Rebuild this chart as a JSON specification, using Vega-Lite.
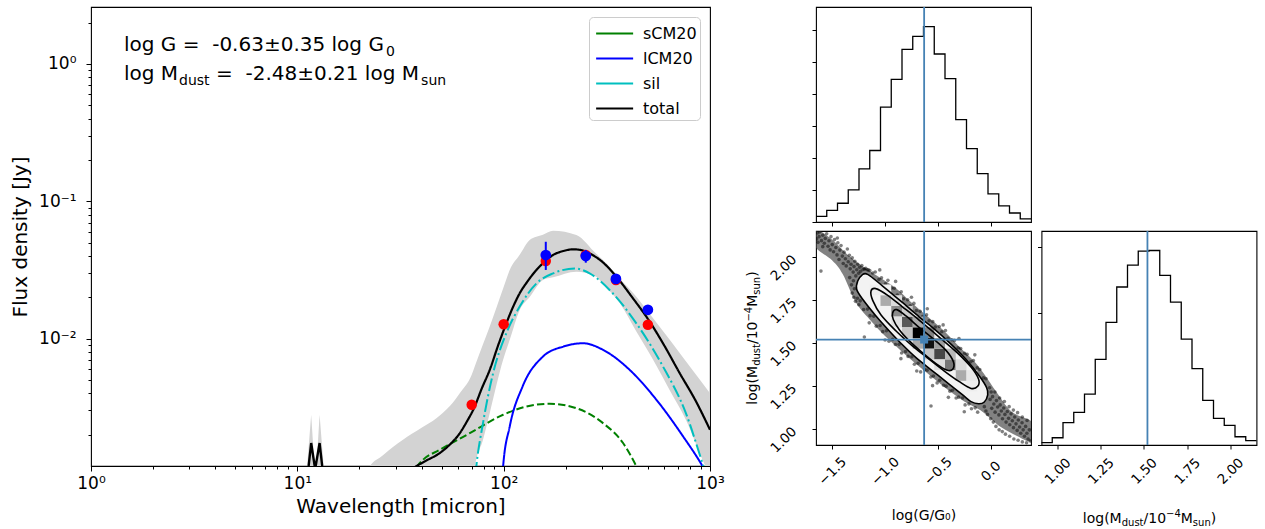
{
"$schema": "https://vega.github.io/schema/vega-lite/v6.json",
"background": "white",
"padding": {"left": 10, "top": 5, "right": 3, "bottom": 0},
"config": {
  "font": "DejaVu Sans",
  "view": {"stroke": "black", "strokeWidth": 1.1},
  "axis": {"grid": false, "domain": false, "tickColor": "black", "tickWidth": 1, "labelColor": "black", "titleColor": "black", "titleFontWeight": "normal", "labelFlush": false, "labelOverlap": false}
},
"datasets": {
  "band": [
    {"lam": 20, "hi": 0.000794, "lo": 0.0001},
    {"lam": 22, "hi": 0.001122, "lo": 0.0001},
    {"lam": 26, "hi": 0.001413, "lo": 0.0001},
    {"lam": 32.5, "hi": 0.001832, "lo": 0.0001},
    {"lam": 40, "hi": 0.002239, "lo": 0.0001},
    {"lam": 47.2, "hi": 0.00263, "lo": 0.0001},
    {"lam": 55, "hi": 0.003236, "lo": 0.0001},
    {"lam": 62, "hi": 0.004102, "lo": 0.0001},
    {"lam": 70, "hi": 0.005458, "lo": 0.000631},
    {"lam": 72.4, "hi": 0.006266, "lo": 0.001122},
    {"lam": 79.4, "hi": 0.009078, "lo": 0.001832},
    {"lam": 85.6, "hi": 0.01222, "lo": 0.002864},
    {"lam": 99.4, "hi": 0.02312, "lo": 0.006998},
    {"lam": 107, "hi": 0.03162, "lo": 0.009795},
    {"lam": 119.6, "hi": 0.04074, "lo": 0.01618},
    {"lam": 133.7, "hi": 0.05224, "lo": 0.02009},
    {"lam": 155, "hi": 0.05702, "lo": 0.02673},
    {"lam": 173.6, "hi": 0.06095, "lo": 0.02793},
    {"lam": 225, "hi": 0.05675, "lo": 0.03069},
    {"lam": 281, "hi": 0.0414, "lo": 0.02825},
    {"lam": 303, "hi": 0.03733, "lo": 0.02495},
    {"lam": 366, "hi": 0.02729, "lo": 0.01807},
    {"lam": 439.6, "hi": 0.02018, "lo": 0.01125},
    {"lam": 530, "hi": 0.01406, "lo": 0.006998},
    {"lam": 638, "hi": 0.009795, "lo": 0.004198},
    {"lam": 764, "hi": 0.006839, "lo": 0.002564},
    {"lam": 920, "hi": 0.004721, "lo": 0.001312},
    {"lam": 1000, "hi": 0.003999, "lo": 0.001}
  ],
  "gspk": [
    {"lam": 11.0, "hi": 0.0009, "lo": 0.0005},
    {"lam": 11.67, "hi": 0.002786, "lo": 0.0005},
    {"lam": 12.25, "hi": 0.0009, "lo": 0.0005},
    {"lam": 12.82, "hi": 0.002786, "lo": 0.0005},
    {"lam": 13.6, "hi": 0.0009, "lo": 0.0005}
  ],
  "spk": [
    {"lam": 11.3, "f": 0.00112},
    {"lam": 11.67, "f": 0.001734},
    {"lam": 12.2, "f": 0.00112},
    {"lam": 12.82, "f": 0.001734},
    {"lam": 13.25, "f": 0.00112}
  ],
  "curves": [
    {"c": "sCM20", "lam": 35, "f": 0.001},
    {"c": "sCM20", "lam": 40.7, "f": 0.001312},
    {"c": "sCM20", "lam": 49, "f": 0.001549},
    {"c": "sCM20", "lam": 68.5, "f": 0.002046},
    {"c": "sCM20", "lam": 99.4, "f": 0.002786},
    {"c": "sCM20", "lam": 128.8, "f": 0.003199},
    {"c": "sCM20", "lam": 167, "f": 0.00335},
    {"c": "sCM20", "lam": 225, "f": 0.003112},
    {"c": "sCM20", "lam": 303, "f": 0.002421},
    {"c": "sCM20", "lam": 379, "f": 0.001734},
    {"c": "sCM20", "lam": 439.6, "f": 0.001175},
    {"c": "sCM20", "lam": 470, "f": 0.000955},
    {"c": "lCM20", "lam": 97, "f": 0.000631},
    {"c": "lCM20", "lam": 99.4, "f": 0.001175},
    {"c": "lCM20", "lam": 107, "f": 0.002291},
    {"c": "lCM20", "lam": 123.5, "f": 0.004477},
    {"c": "lCM20", "lam": 155, "f": 0.007396},
    {"c": "lCM20", "lam": 195, "f": 0.00875},
    {"c": "lCM20", "lam": 242.6, "f": 0.009247},
    {"c": "lCM20", "lam": 303, "f": 0.008279},
    {"c": "lCM20", "lam": 408, "f": 0.005916},
    {"c": "lCM20", "lam": 550, "f": 0.003581},
    {"c": "lCM20", "lam": 741, "f": 0.001936},
    {"c": "lCM20", "lam": 920, "f": 0.001175},
    {"c": "lCM20", "lam": 1000, "f": 0.000933},
    {"c": "sil", "lam": 70, "f": 0.000501},
    {"c": "sil", "lam": 73.7, "f": 0.001175},
    {"c": "sil", "lam": 79.4, "f": 0.002421},
    {"c": "sil", "lam": 88.9, "f": 0.005598},
    {"c": "sil", "lam": 103, "f": 0.01094},
    {"c": "sil", "lam": 119.6, "f": 0.0171},
    {"c": "sil", "lam": 144.2, "f": 0.02523},
    {"c": "sil", "lam": 173.6, "f": 0.02985},
    {"c": "sil", "lam": 221, "f": 0.03243},
    {"c": "sil", "lam": 261, "f": 0.02985},
    {"c": "sil", "lam": 326, "f": 0.0226},
    {"c": "sil", "lam": 439.6, "f": 0.01291},
    {"c": "sil", "lam": 592, "f": 0.006252},
    {"c": "sil", "lam": 764, "f": 0.002864},
    {"c": "sil", "lam": 908, "f": 0.001312},
    {"c": "sil", "lam": 1000, "f": 0.000832},
    {"c": "total", "lam": 30, "f": 0.0009},
    {"c": "total", "lam": 37.7, "f": 0.001175},
    {"c": "total", "lam": 42, "f": 0.001288},
    {"c": "total", "lam": 49, "f": 0.001466},
    {"c": "total", "lam": 55, "f": 0.001698},
    {"c": "total", "lam": 61.3, "f": 0.002046},
    {"c": "total", "lam": 66, "f": 0.002455},
    {"c": "total", "lam": 72.4, "f": 0.003199},
    {"c": "total", "lam": 78, "f": 0.004266},
    {"c": "total", "lam": 85.6, "f": 0.005916},
    {"c": "total", "lam": 94, "f": 0.008913},
    {"c": "total", "lam": 103, "f": 0.01291},
    {"c": "total", "lam": 111, "f": 0.01698},
    {"c": "total", "lam": 119.6, "f": 0.02138},
    {"c": "total", "lam": 131, "f": 0.0263},
    {"c": "total", "lam": 144.2, "f": 0.03162},
    {"c": "total", "lam": 158, "f": 0.03631},
    {"c": "total", "lam": 173.6, "f": 0.04064},
    {"c": "total", "lam": 195, "f": 0.04345},
    {"c": "total", "lam": 217, "f": 0.04467},
    {"c": "total", "lam": 240, "f": 0.04395},
    {"c": "total", "lam": 261, "f": 0.04169},
    {"c": "total", "lam": 300, "f": 0.03631},
    {"c": "total", "lam": 351.7, "f": 0.02825},
    {"c": "total", "lam": 420, "f": 0.01995},
    {"c": "total", "lam": 510, "f": 0.0133},
    {"c": "total", "lam": 600, "f": 0.008913},
    {"c": "total", "lam": 713, "f": 0.005598},
    {"c": "total", "lam": 850, "f": 0.003548},
    {"c": "total", "lam": 1000, "f": 0.002168}
  ],
  "obs": [
    {"k": "model", "lam": 70, "f": 0.0033},
    {"k": "model", "lam": 100, "f": 0.0127},
    {"k": "model", "lam": 160, "f": 0.0367},
    {"k": "model", "lam": 250, "f": 0.0406},
    {"k": "model", "lam": 350, "f": 0.0267},
    {"k": "model", "lam": 500, "f": 0.0126},
    {"k": "obs", "lam": 160, "f": 0.0406, "lo": 0.0316, "hi": 0.0507},
    {"k": "obs", "lam": 250, "f": 0.0399, "lo": 0.0357, "hi": 0.0442},
    {"k": "obs", "lam": 350, "f": 0.0272, "lo": 0.0262, "hi": 0.0282},
    {"k": "obs", "lam": 500, "f": 0.0162, "lo": 0.0155, "hi": 0.0169}
  ],
  "ann": [
    {"k": "main", "t": "log G = \u00a0-0.63±0.35 log G", "lam": 1.445, "f": 1.243},
    {"k": "sub", "t": "0", "lam": 26.9, "f": 1.143},
    {"k": "main", "t": "log M", "lam": 1.445, "f": 0.765},
    {"k": "sub", "t": "dust", "lam": 2.67, "f": 0.7036},
    {"k": "main", "t": "= \u00a0-2.48±0.21 log M", "lam": 4.035, "f": 0.765},
    {"k": "sub", "t": "sun", "lam": 39.8, "f": 0.7036}
  ],
  "ttlx": [
    {"k": "main", "t": "log(M", "x": 1.146, "y": -472},
    {"k": "small", "t": "dust", "x": 1.3711, "y": -493},
    {"k": "main", "t": "/10", "x": 1.4973, "y": -472},
    {"k": "small", "t": "−4", "x": 1.6275, "y": -437},
    {"k": "main", "t": "M", "x": 1.7126, "y": -472},
    {"k": "small", "t": "sun", "x": 1.7826, "y": -493},
    {"k": "main", "t": ")", "x": 1.8862, "y": -472}
  ],
  "ttly": [
    {"k": "main", "t": "log(M", "g": -2.213, "m": 1.1411},
    {"k": "small", "t": "dust", "g": -2.18, "m": 1.3673},
    {"k": "main", "t": "/10", "g": -2.213, "m": 1.494},
    {"k": "small", "t": "−4", "g": -2.26, "m": 1.6248},
    {"k": "main", "t": "M", "g": -2.213, "m": 1.7103},
    {"k": "small", "t": "sun", "g": -2.18, "m": 1.7807},
    {"k": "main", "t": ")", "g": -2.213, "m": 1.8847}
  ],
  "hg": [
    {"e": -1.654, "n": 35}, {"e": -1.5522, "n": 73}, {"e": -1.4504, "n": 117}, {"e": -1.3486, "n": 200},
    {"e": -1.2468, "n": 331}, {"e": -1.145, "n": 446}, {"e": -1.0432, "n": 717}, {"e": -0.9414, "n": 890},
    {"e": -0.8396, "n": 1077}, {"e": -0.7378, "n": 1158}, {"e": -0.636, "n": 1219}, {"e": -0.5342, "n": 1048},
    {"e": -0.4324, "n": 894}, {"e": -0.3306, "n": 638}, {"e": -0.2288, "n": 458}, {"e": -0.127, "n": 302},
    {"e": -0.0252, "n": 175}, {"e": 0.0766, "n": 100}, {"e": 0.1784, "n": 56}, {"e": 0.2802, "n": 19},
    {"e": 0.382, "n": 19}
  ],
  "hm": [
    {"e": 0.907, "n": 14}, {"e": 0.9692, "n": 44}, {"e": 1.0314, "n": 135}, {"e": 1.0936, "n": 198},
    {"e": 1.1558, "n": 308}, {"e": 1.218, "n": 518}, {"e": 1.2802, "n": 742}, {"e": 1.3424, "n": 956},
    {"e": 1.4046, "n": 1089}, {"e": 1.4668, "n": 1173}, {"e": 1.529, "n": 1177}, {"e": 1.5912, "n": 1026},
    {"e": 1.6534, "n": 865}, {"e": 1.7156, "n": 641}, {"e": 1.7778, "n": 462}, {"e": 1.84, "n": 270},
    {"e": 1.9022, "n": 161}, {"e": 1.9644, "n": 119}, {"e": 2.0266, "n": 50}, {"e": 2.0888, "n": 26},
    {"e": 2.151, "n": 26}
  ],
  "halo": [
    {"i": 1, "g": -1.66, "m": 2.16}, {"i": 2, "g": -1.5, "m": 2.1}, {"i": 3, "g": -1.35, "m": 2.01}, {"i": 4, "g": -1.2, "m": 1.94},
    {"i": 5, "g": -1.05, "m": 1.88}, {"i": 6, "g": -0.9, "m": 1.82}, {"i": 7, "g": -0.75, "m": 1.735}, {"i": 8, "g": -0.6, "m": 1.655},
    {"i": 9, "g": -0.45, "m": 1.575}, {"i": 10, "g": -0.3, "m": 1.48}, {"i": 11, "g": -0.15, "m": 1.39}, {"i": 12, "g": -0.05, "m": 1.31},
    {"i": 13, "g": 0.05, "m": 1.22}, {"i": 14, "g": 0.2, "m": 1.1}, {"i": 15, "g": 0.39, "m": 1.04},
    {"i": 16, "g": 0.39, "m": 0.93}, {"i": 17, "g": 0.25, "m": 0.96}, {"i": 18, "g": 0.1, "m": 1.01}, {"i": 19, "g": 0.0, "m": 1.06},
    {"i": 20, "g": -0.1, "m": 1.11}, {"i": 21, "g": -0.25, "m": 1.16}, {"i": 22, "g": -0.4, "m": 1.225}, {"i": 23, "g": -0.55, "m": 1.3},
    {"i": 24, "g": -0.7, "m": 1.375}, {"i": 25, "g": -0.85, "m": 1.455}, {"i": 26, "g": -1.0, "m": 1.54}, {"i": 27, "g": -1.15, "m": 1.64},
    {"i": 28, "g": -1.28, "m": 1.74}, {"i": 29, "g": -1.4, "m": 1.9}, {"i": 30, "g": -1.5, "m": 1.98}, {"i": 31, "g": -1.66, "m": 2.06}
  ],
  "cells": [
    {"g0": -1.145, "g1": -1.0432, "m0": 1.7778, "m1": 1.84, "d": 0.06},
    {"g0": -1.0432, "g1": -0.9414, "m0": 1.7156, "m1": 1.7778, "d": 0.3},
    {"g0": -1.0432, "g1": -0.9414, "m0": 1.7778, "m1": 1.84, "d": 0.05},
    {"g0": -0.9414, "g1": -0.8396, "m0": 1.6534, "m1": 1.7156, "d": 0.42},
    {"g0": -0.9414, "g1": -0.8396, "m0": 1.7156, "m1": 1.7778, "d": 0.12},
    {"g0": -0.9414, "g1": -0.8396, "m0": 1.5912, "m1": 1.6534, "d": 0.1},
    {"g0": -0.8396, "g1": -0.7378, "m0": 1.5912, "m1": 1.6534, "d": 0.62},
    {"g0": -0.8396, "g1": -0.7378, "m0": 1.6534, "m1": 1.7156, "d": 0.18},
    {"g0": -0.8396, "g1": -0.7378, "m0": 1.529, "m1": 1.5912, "d": 0.2},
    {"g0": -0.7378, "g1": -0.636, "m0": 1.529, "m1": 1.5912, "d": 1.0},
    {"g0": -0.7378, "g1": -0.636, "m0": 1.5912, "m1": 1.6534, "d": 0.3},
    {"g0": -0.7378, "g1": -0.636, "m0": 1.4668, "m1": 1.529, "d": 0.3},
    {"g0": -0.636, "g1": -0.5342, "m0": 1.4668, "m1": 1.529, "d": 0.95},
    {"g0": -0.636, "g1": -0.5342, "m0": 1.529, "m1": 1.5912, "d": 0.45},
    {"g0": -0.636, "g1": -0.5342, "m0": 1.4046, "m1": 1.4668, "d": 0.2},
    {"g0": -0.5342, "g1": -0.4324, "m0": 1.4046, "m1": 1.4668, "d": 0.7},
    {"g0": -0.5342, "g1": -0.4324, "m0": 1.4668, "m1": 1.529, "d": 0.35},
    {"g0": -0.5342, "g1": -0.4324, "m0": 1.3424, "m1": 1.4046, "d": 0.12},
    {"g0": -0.4324, "g1": -0.3306, "m0": 1.3424, "m1": 1.4046, "d": 0.5},
    {"g0": -0.4324, "g1": -0.3306, "m0": 1.4046, "m1": 1.4668, "d": 0.25},
    {"g0": -0.3306, "g1": -0.2288, "m0": 1.2802, "m1": 1.3424, "d": 0.3},
    {"g0": -0.3306, "g1": -0.2288, "m0": 1.3424, "m1": 1.4046, "d": 0.12},
    {"g0": -0.2288, "g1": -0.127, "m0": 1.218, "m1": 1.2802, "d": 0.06},
    {"g0": -0.2288, "g1": -0.127, "m0": 1.2802, "m1": 1.3424, "d": 0.08}
  ],
  "cont": [
    {"lv": 1, "i": 1, "g": -1.259, "m": 1.86}, {"lv": 1, "i": 2, "g": -1.218, "m": 1.895}, {"lv": 1, "i": 3, "g": -1.165, "m": 1.899},
    {"lv": 1, "i": 4, "g": -1.023, "m": 1.831}, {"lv": 1, "i": 5, "g": -0.833, "m": 1.734}, {"lv": 1, "i": 6, "g": -0.675, "m": 1.651},
    {"lv": 1, "i": 7, "g": -0.549, "m": 1.589}, {"lv": 1, "i": 8, "g": -0.391, "m": 1.502}, {"lv": 1, "i": 9, "g": -0.234, "m": 1.405},
    {"lv": 1, "i": 10, "g": -0.107, "m": 1.308}, {"lv": 1, "i": 11, "g": -0.038, "m": 1.24}, {"lv": 1, "i": 12, "g": -0.028, "m": 1.198},
    {"lv": 1, "i": 13, "g": -0.06, "m": 1.157}, {"lv": 1, "i": 14, "g": -0.114, "m": 1.147}, {"lv": 1, "i": 15, "g": -0.186, "m": 1.159},
    {"lv": 1, "i": 16, "g": -0.265, "m": 1.198}, {"lv": 1, "i": 17, "g": -0.391, "m": 1.26}, {"lv": 1, "i": 18, "g": -0.549, "m": 1.337},
    {"lv": 1, "i": 19, "g": -0.707, "m": 1.415}, {"lv": 1, "i": 20, "g": -0.833, "m": 1.488}, {"lv": 1, "i": 21, "g": -0.96, "m": 1.57},
    {"lv": 1, "i": 22, "g": -1.086, "m": 1.657}, {"lv": 1, "i": 23, "g": -1.212, "m": 1.754}, {"lv": 1, "i": 24, "g": -1.269, "m": 1.812},
    {"lv": 2, "i": 1, "g": -1.133, "m": 1.802}, {"lv": 2, "i": 2, "g": -1.086, "m": 1.816}, {"lv": 2, "i": 3, "g": -0.975, "m": 1.777},
    {"lv": 2, "i": 4, "g": -0.833, "m": 1.709}, {"lv": 2, "i": 5, "g": -0.675, "m": 1.632}, {"lv": 2, "i": 6, "g": -0.518, "m": 1.55},
    {"lv": 2, "i": 7, "g": -0.328, "m": 1.45}, {"lv": 2, "i": 8, "g": -0.186, "m": 1.36}, {"lv": 2, "i": 9, "g": -0.114, "m": 1.289},
    {"lv": 2, "i": 10, "g": -0.123, "m": 1.248}, {"lv": 2, "i": 11, "g": -0.186, "m": 1.236}, {"lv": 2, "i": 12, "g": -0.297, "m": 1.275},
    {"lv": 2, "i": 13, "g": -0.439, "m": 1.337}, {"lv": 2, "i": 14, "g": -0.581, "m": 1.405}, {"lv": 2, "i": 15, "g": -0.739, "m": 1.482},
    {"lv": 2, "i": 16, "g": -0.896, "m": 1.57}, {"lv": 2, "i": 17, "g": -1.038, "m": 1.663}, {"lv": 2, "i": 18, "g": -1.117, "m": 1.748},
    {"lv": 3, "i": 1, "g": -0.928, "m": 1.676}, {"lv": 3, "i": 2, "g": -0.89, "m": 1.694}, {"lv": 3, "i": 3, "g": -0.802, "m": 1.657},
    {"lv": 3, "i": 4, "g": -0.675, "m": 1.589}, {"lv": 3, "i": 5, "g": -0.549, "m": 1.527}, {"lv": 3, "i": 6, "g": -0.423, "m": 1.457},
    {"lv": 3, "i": 7, "g": -0.353, "m": 1.391}, {"lv": 3, "i": 8, "g": -0.36, "m": 1.347}, {"lv": 3, "i": 9, "g": -0.417, "m": 1.343},
    {"lv": 3, "i": 10, "g": -0.518, "m": 1.38}, {"lv": 3, "i": 11, "g": -0.644, "m": 1.442}, {"lv": 3, "i": 12, "g": -0.77, "m": 1.512},
    {"lv": 3, "i": 13, "g": -0.865, "m": 1.577}, {"lv": 3, "i": 14, "g": -0.922, "m": 1.637}
  ],
  "pts": [
    {"g": -1.648, "m": 2.105}, {"g": -1.64, "m": 2.14}, {"g": -1.635, "m": 2.085}, {"g": -1.625, "m": 2.118}, {"g": -1.618, "m": 2.146},
    {"g": -1.602, "m": 2.095}, {"g": -1.59, "m": 2.126}, {"g": -1.59, "m": 2.06}, {"g": -1.575, "m": 2.08}, {"g": -1.566, "m": 2.108},
    {"g": -1.553, "m": 2.135}, {"g": -1.54, "m": 2.062}, {"g": -1.531, "m": 2.094}, {"g": -1.52, "m": 2.041}, {"g": -1.512, "m": 2.118},
    {"g": -1.5, "m": 2.072}, {"g": -1.488, "m": 2.03}, {"g": -1.479, "m": 2.101}, {"g": -1.466, "m": 2.055}, {"g": -1.455, "m": 2.012},
    {"g": -1.452, "m": 2.11}, {"g": -1.447, "m": 2.083}, {"g": -1.436, "m": 1.985}, {"g": -1.428, "m": 2.04}, {"g": -1.417, "m": 2.066},
    {"g": -1.405, "m": 2.005}, {"g": -1.396, "m": 1.962}, {"g": -1.388, "m": 2.028}, {"g": -1.376, "m": 1.99}, {"g": -1.368, "m": 1.948},
    {"g": -1.357, "m": 2.046}, {"g": -1.349, "m": 1.972}, {"g": -1.338, "m": 2.01}, {"g": -1.335, "m": 1.88}, {"g": -1.33, "m": 1.931},
    {"g": -1.322, "m": 1.958}, {"g": -1.318, "m": 1.838}, {"g": -1.312, "m": 1.79}, {"g": -1.311, "m": 1.995}, {"g": -1.302, "m": 1.912},
    {"g": -1.3, "m": 1.862}, {"g": -1.296, "m": 1.766}, {"g": -1.294, "m": 1.944}, {"g": -1.29, "m": 1.815}, {"g": -1.286, "m": 1.975},
    {"g": -1.28, "m": 1.742}, {"g": -1.277, "m": 1.89}, {"g": -1.268, "m": 1.926}, {"g": -1.262, "m": 1.76}, {"g": -1.259, "m": 1.958},
    {"g": -1.25, "m": 1.905}, {"g": -1.248, "m": 1.722}, {"g": -1.241, "m": 1.94}, {"g": -1.235, "m": 1.745}, {"g": -1.232, "m": 1.917},
    {"g": -1.22, "m": 1.95}, {"g": -1.208, "m": 1.928}, {"g": -1.195, "m": 1.93}, {"g": -1.183, "m": 1.934}, {"g": -1.17, "m": 1.926},
    {"g": -1.158, "m": 1.925}, {"g": -1.145, "m": 1.921},
    {"g": -1.117, "m": 1.907}, {"g": -1.093, "m": 1.913}, {"g": -1.058, "m": 1.869}, {"g": -1.034, "m": 1.879}, {"g": -0.996, "m": 1.844},
    {"g": -0.973, "m": 1.864}, {"g": -0.938, "m": 1.819}, {"g": -0.912, "m": 1.818}, {"g": -0.884, "m": 1.778}, {"g": -0.847, "m": 1.798},
    {"g": -0.823, "m": 1.757}, {"g": -0.786, "m": 1.751}, {"g": -0.762, "m": 1.716}, {"g": -0.727, "m": 1.73}, {"g": -0.703, "m": 1.689},
    {"g": -0.668, "m": 1.684}, {"g": -0.644, "m": 1.654}, {"g": -0.607, "m": 1.664}, {"g": -0.583, "m": 1.629}, {"g": -0.548, "m": 1.624},
    {"g": -0.524, "m": 1.593}, {"g": -0.487, "m": 1.596}, {"g": -0.463, "m": 1.565}, {"g": -0.428, "m": 1.573}, {"g": -0.404, "m": 1.527},
    {"g": -0.367, "m": 1.519}, {"g": -0.343, "m": 1.515}, {"g": -0.308, "m": 1.472}, {"g": -0.284, "m": 1.468}, {"g": -0.247, "m": 1.44},
    {"g": -0.223, "m": 1.434}, {"g": -0.188, "m": 1.391}, {"g": -0.164, "m": 1.398}, {"g": -0.127, "m": 1.356}, {"g": -0.103, "m": 1.346},
    {"g": -0.068, "m": 1.297}, {"g": -0.044, "m": 1.292},
    {"g": -1.05, "m": 1.925}, {"g": -0.9, "m": 1.858}, {"g": -0.75, "m": 1.766}, {"g": -0.6, "m": 1.699}, {"g": -0.45, "m": 1.605},
    {"g": -0.3, "m": 1.526}, {"g": -0.15, "m": 1.431},
    {"g": -1.203, "m": 1.695}, {"g": -1.166, "m": 1.697}, {"g": -1.142, "m": 1.659}, {"g": -1.107, "m": 1.656}, {"g": -1.083, "m": 1.598},
    {"g": -1.047, "m": 1.602}, {"g": -1.022, "m": 1.566}, {"g": -0.987, "m": 1.571}, {"g": -0.963, "m": 1.51}, {"g": -0.928, "m": 1.521},
    {"g": -0.902, "m": 1.491}, {"g": -0.867, "m": 1.492}, {"g": -0.843, "m": 1.442}, {"g": -0.806, "m": 1.45}, {"g": -0.782, "m": 1.422},
    {"g": -0.746, "m": 1.42}, {"g": -0.722, "m": 1.376}, {"g": -0.687, "m": 1.382}, {"g": -0.663, "m": 1.332}, {"g": -0.626, "m": 1.346},
    {"g": -0.602, "m": 1.342}, {"g": -0.566, "m": 1.302}, {"g": -0.542, "m": 1.308}, {"g": -0.507, "m": 1.268}, {"g": -0.483, "m": 1.283},
    {"g": -0.446, "m": 1.254}, {"g": -0.422, "m": 1.249}, {"g": -0.386, "m": 1.22}, {"g": -0.362, "m": 1.225}, {"g": -0.327, "m": 1.18},
    {"g": -0.303, "m": 1.185}, {"g": -0.266, "m": 1.18}, {"g": -0.242, "m": 1.14}, {"g": -0.206, "m": 1.146}, {"g": -0.182, "m": 1.118},
    {"g": -0.147, "m": 1.123}, {"g": -0.123, "m": 1.098},
    {"g": -1.15, "m": 1.617}, {"g": -1.0, "m": 1.517}, {"g": -0.85, "m": 1.409}, {"g": -0.7, "m": 1.337}, {"g": -0.55, "m": 1.252},
    {"g": -0.4, "m": 1.184}, {"g": -0.25, "m": 1.1}, {"g": -1.196, "m": 1.535}, {"g": -0.565, "m": 1.134}, {"g": -1.607, "m": 1.918},
    {"g": 0.005, "m": 1.215}, {"g": -0.005, "m": 1.172}, {"g": 0.01, "m": 1.12}, {"g": 0.018, "m": 1.188}, {"g": 0.03, "m": 1.145},
    {"g": 0.042, "m": 1.098}, {"g": 0.055, "m": 1.165}, {"g": 0.066, "m": 1.128}, {"g": 0.078, "m": 1.082}, {"g": 0.09, "m": 1.14},
    {"g": 0.101, "m": 1.105}, {"g": 0.112, "m": 1.06}, {"g": 0.124, "m": 1.122}, {"g": 0.135, "m": 1.085}, {"g": 0.146, "m": 1.04},
    {"g": 0.158, "m": 1.102}, {"g": 0.17, "m": 1.062}, {"g": 0.181, "m": 1.025}, {"g": 0.193, "m": 1.088}, {"g": 0.205, "m": 1.048},
    {"g": 0.216, "m": 1.008}, {"g": 0.228, "m": 1.07}, {"g": 0.24, "m": 1.03}, {"g": 0.251, "m": 0.992}, {"g": 0.262, "m": 1.052},
    {"g": 0.274, "m": 1.012}, {"g": 0.285, "m": 0.975}, {"g": 0.297, "m": 1.036}, {"g": 0.308, "m": 0.995}, {"g": 0.32, "m": 0.958},
    {"g": 0.331, "m": 1.015}, {"g": 0.343, "m": 0.975}, {"g": 0.354, "m": 0.942}, {"g": 0.366, "m": 0.995}, {"g": 0.375, "m": 0.93},
    {"g": -0.06, "m": 1.13}, {"g": -0.045, "m": 1.105}, {"g": -0.03, "m": 1.085}, {"g": 0.0, "m": 1.06}, {"g": 0.025, "m": 1.04},
    {"g": 0.05, "m": 1.015}, {"g": 0.08, "m": 0.995}, {"g": 0.11, "m": 0.985}, {"g": 0.14, "m": 0.97}, {"g": 0.18, "m": 0.958},
    {"g": 0.22, "m": 0.942}, {"g": 0.26, "m": 0.935}, {"g": 0.3, "m": 0.925}, {"g": 0.34, "m": 0.92}, {"g": -0.01, "m": 1.24},
    {"g": 0.04, "m": 1.215}, {"g": 0.085, "m": 1.18}, {"g": 0.13, "m": 1.16}, {"g": 0.175, "m": 1.13}, {"g": 0.215, "m": 1.11},
    {"g": 0.255, "m": 1.095}, {"g": 0.3, "m": 1.07}, {"g": 0.345, "m": 1.05}
  ]
},
"spacing": 18,
"hconcat": [
  {
    "width": 619, "height": 459,
    "layer": [
      {"data": {"name": "band"}, "mark": {"type": "area", "interpolate": "monotone", "color": "#d3d3d3", "clip": true},
       "encoding": {
         "x": {"field": "lam", "type": "quantitative", "scale": {"type": "log", "domain": [1, 1000], "nice": false},
               "axis": {"title": "Wavelength [micron]",
                        "values": [1,2,3,4,5,6,7,8,9,10,20,30,40,50,60,70,80,90,100,200,300,400,500,600,700,800,900,1000],
                        "labelExpr": "datum.value==1?'10⁰':datum.value==10?'10¹':datum.value==100?'10²':datum.value==1000?'10³':''",
                        "tickSize": {"condition": {"test": "datum.value==1||datum.value==10||datum.value==100||datum.value==1000", "value": 5}, "value": 3},
                        "labelFontSize": 17, "labelPadding": 4, "titleFontSize": 20, "titlePadding": 5}},
         "y": {"field": "hi", "type": "quantitative", "scale": {"type": "log", "domain": [0.00118, 2.6], "nice": false},
               "axis": {"title": "Flux density [Jy]",
                        "values": [0.002,0.003,0.004,0.005,0.006,0.007,0.008,0.009,0.01,0.02,0.03,0.04,0.05,0.06,0.07,0.08,0.09,0.1,0.2,0.3,0.4,0.5,0.6,0.7,0.8,0.9,1,2],
                        "labelExpr": "datum.value==0.01?'10⁻²':datum.value==0.1?'10⁻¹':datum.value==1?'10⁰':''",
                        "tickSize": {"condition": {"test": "datum.value==0.01||datum.value==0.1||datum.value==1", "value": 5}, "value": 3},
                        "labelFontSize": 17, "labelPadding": 10, "titleFontSize": 20, "titlePadding": 8}},
         "y2": {"field": "lo"}}},
      {"data": {"name": "gspk"}, "mark": {"type": "area", "color": "#d3d3d3", "clip": true},
       "encoding": {"x": {"field": "lam", "type": "quantitative"}, "y": {"field": "hi", "type": "quantitative"}, "y2": {"field": "lo"}}},
      {"data": {"name": "curves"}, "transform": [{"filter": "datum.c=='sCM20'"}],
       "mark": {"type": "line", "strokeWidth": 2, "clip": true, "interpolate": "monotone"},
       "encoding": {"x": {"field": "lam", "type": "quantitative"}, "y": {"field": "f", "type": "quantitative"},
         "color": {"field": "c", "type": "nominal", "scale": {"domain": ["sCM20", "lCM20", "sil", "total"], "range": ["#008000", "#0000ff", "#00bfbf", "#000000"]},
                   "legend": {"title": null, "orient": "top-right", "offset": 10, "padding": 3, "strokeColor": "#cccccc", "fillColor": "white", "cornerRadius": 4, "labelFontSize": 16, "symbolType": "M-0.75,0H2.21", "symbolSize": 625, "symbolStrokeWidth": 2, "rowPadding": 3, "labelOffset": 24}},
         "strokeDash": {"field": "c", "type": "nominal", "scale": {"domain": ["sCM20", "lCM20", "sil", "total"], "range": [[7.4, 3.2], [1, 0], [12.8, 3.2, 2, 3.2], [1, 0]]}, "legend": null}}},
      {"data": {"name": "curves"}, "transform": [{"filter": "datum.c=='lCM20'"}],
       "mark": {"type": "line", "strokeWidth": 2, "clip": true, "interpolate": "monotone"},
       "encoding": {"x": {"field": "lam", "type": "quantitative"}, "y": {"field": "f", "type": "quantitative"},
         "color": {"field": "c", "type": "nominal", "scale": {"domain": ["sCM20", "lCM20", "sil", "total"], "range": ["#008000", "#0000ff", "#00bfbf", "#000000"]}},
         "strokeDash": {"field": "c", "type": "nominal", "scale": {"domain": ["sCM20", "lCM20", "sil", "total"], "range": [[7.4, 3.2], [1, 0], [12.8, 3.2, 2, 3.2], [1, 0]]}, "legend": null}}},
      {"data": {"name": "curves"}, "transform": [{"filter": "datum.c=='sil'"}],
       "mark": {"type": "line", "strokeWidth": 2, "clip": true, "interpolate": "monotone"},
       "encoding": {"x": {"field": "lam", "type": "quantitative"}, "y": {"field": "f", "type": "quantitative"},
         "color": {"field": "c", "type": "nominal", "scale": {"domain": ["sCM20", "lCM20", "sil", "total"], "range": ["#008000", "#0000ff", "#00bfbf", "#000000"]}},
         "strokeDash": {"field": "c", "type": "nominal", "scale": {"domain": ["sCM20", "lCM20", "sil", "total"], "range": [[7.4, 3.2], [1, 0], [12.8, 3.2, 2, 3.2], [1, 0]]}, "legend": null}}},
      {"data": {"name": "curves"}, "transform": [{"filter": "datum.c=='total'"}],
       "mark": {"type": "line", "strokeWidth": 2.2, "clip": true, "interpolate": "monotone"},
       "encoding": {"x": {"field": "lam", "type": "quantitative"}, "y": {"field": "f", "type": "quantitative"},
         "color": {"field": "c", "type": "nominal", "scale": {"domain": ["sCM20", "lCM20", "sil", "total"], "range": ["#008000", "#0000ff", "#00bfbf", "#000000"]}},
         "strokeDash": {"field": "c", "type": "nominal", "scale": {"domain": ["sCM20", "lCM20", "sil", "total"], "range": [[7.4, 3.2], [1, 0], [12.8, 3.2, 2, 3.2], [1, 0]]}, "legend": null}}},
      {"data": {"name": "spk"}, "mark": {"type": "line", "color": "black", "strokeWidth": 2.4, "clip": true},
       "encoding": {"x": {"field": "lam", "type": "quantitative"}, "y": {"field": "f", "type": "quantitative"}}},
      {"data": {"name": "obs"}, "transform": [{"filter": "datum.k=='model'"}],
       "mark": {"type": "circle", "color": "#ff0000", "size": 110, "opacity": 1},
       "encoding": {"x": {"field": "lam", "type": "quantitative"}, "y": {"field": "f", "type": "quantitative"}}},
      {"data": {"name": "obs"}, "transform": [{"filter": "datum.k=='obs'"}],
       "mark": {"type": "rule", "color": "#0000ff", "strokeWidth": 2},
       "encoding": {"x": {"field": "lam", "type": "quantitative"}, "y": {"field": "lo", "type": "quantitative"}, "y2": {"field": "hi"}}},
      {"data": {"name": "obs"}, "transform": [{"filter": "datum.k=='obs'"}],
       "mark": {"type": "circle", "color": "#0000ff", "size": 115, "opacity": 1},
       "encoding": {"x": {"field": "lam", "type": "quantitative"}, "y": {"field": "f", "type": "quantitative"}}},
      {"data": {"name": "ann"}, "transform": [{"filter": "datum.k=='main'"}],
       "mark": {"type": "text", "align": "left", "baseline": "alphabetic", "fontSize": 20, "color": "black"},
       "encoding": {"x": {"field": "lam", "type": "quantitative"}, "y": {"field": "f", "type": "quantitative"}, "text": {"field": "t"}}},
      {"data": {"name": "ann"}, "transform": [{"filter": "datum.k=='sub'"}],
       "mark": {"type": "text", "align": "left", "baseline": "alphabetic", "fontSize": 14, "color": "black"},
       "encoding": {"x": {"field": "lam", "type": "quantitative"}, "y": {"field": "f", "type": "quantitative"}, "text": {"field": "t"}}}
    ]
  },
  {
    "spacing": 0.5,
    "hconcat": [
      {
        "spacing": 9, "bounds": "flush",
        "vconcat": [
          {
            "width": 215, "height": 215,
            "layer": [
              {"data": {"name": "hg"}, "mark": {"type": "line", "interpolate": "step-after", "color": "black", "strokeWidth": 1.3},
               "encoding": {
                 "x": {"field": "e", "type": "quantitative", "scale": {"domain": [-1.654, 0.382], "nice": false, "zero": false},
                       "axis": {"values": [-1.5, -1, -0.5, 0], "labels": false, "title": null, "tickSize": 4}},
                 "y": {"field": "n", "type": "quantitative", "scale": {"domain": [0, 1341], "nice": false},
                       "axis": {"values": [0, 200, 400, 600, 800, 1000, 1200], "labels": false, "title": null, "tickSize": 4}}}},
              {"data": {"values": [{"v": -0.63}]}, "mark": {"type": "rule", "color": "#4682b4", "strokeWidth": 1.8},
               "encoding": {"x": {"field": "v", "type": "quantitative"}}}
            ]
          },
          {
            "width": 215, "height": 214,
            "layer": [
              {"data": {"name": "halo"}, "mark": {"type": "line", "interpolate": "cardinal-closed", "fill": "#4d4d4d", "fillOpacity": 0.7, "strokeWidth": 0, "clip": true},
               "encoding": {
                 "x": {"field": "g", "type": "quantitative", "scale": {"domain": [-1.654, 0.382], "nice": false, "zero": false},
                       "axis": {"values": [-1.5, -1, -0.5, 0], "labelExpr": "replace(format(datum.value,'.1f'),'-','−')",
                                "labelAngle": 315, "labelAlign": "center", "labelBaseline": "middle", "labelFontSize": 13.5, "labelPadding": 22,
                                "tickSize": 4, "title": "log(G/G₀)", "titleFontSize": 14, "titlePadding": 21}},
                 "y": {"field": "m", "type": "quantitative", "scale": {"domain": [0.907, 2.151], "nice": false, "zero": false},
                       "axis": {"values": [1, 1.25, 1.5, 1.75, 2], "format": ".2f",
                                "labelAngle": 315, "labelAlign": "right", "labelBaseline": "middle", "labelFontSize": 13.5, "labelPadding": 18,
                                "tickSize": 4, "title": null}},
                 "order": {"field": "i", "type": "quantitative"}}},
              {"data": {"name": "pts"}, "mark": {"type": "circle", "color": "black", "opacity": 0.5, "size": 13, "clip": true},
               "encoding": {"x": {"field": "g", "type": "quantitative"}, "y": {"field": "m", "type": "quantitative"}}},
              {"data": {"name": "cont"}, "transform": [{"filter": "datum.lv==1"}],
               "mark": {"type": "line", "interpolate": "cardinal-closed", "fill": "#f3f3f3", "strokeWidth": 0},
               "encoding": {"x": {"field": "g", "type": "quantitative"}, "y": {"field": "m", "type": "quantitative"}, "order": {"field": "i", "type": "quantitative"}}},
              {"data": {"name": "cells"}, "mark": {"type": "rect"},
               "encoding": {"x": {"field": "g0", "type": "quantitative"}, "x2": {"field": "g1"}, "y": {"field": "m0", "type": "quantitative"}, "y2": {"field": "m1"},
                 "color": {"field": "d", "type": "quantitative", "scale": {"domain": [0, 1], "range": ["#ffffff", "#000000"]}, "legend": null}}},
              {"data": {"name": "cont"}, "mark": {"type": "line", "interpolate": "cardinal-closed", "color": "black", "strokeWidth": 1.6},
               "encoding": {"x": {"field": "g", "type": "quantitative"}, "y": {"field": "m", "type": "quantitative"}, "detail": {"field": "lv", "type": "nominal"}, "order": {"field": "i", "type": "quantitative"}}},
              {"data": {"values": [{"v": -0.63}]}, "mark": {"type": "rule", "color": "#4682b4", "strokeWidth": 1.8},
               "encoding": {"x": {"field": "v", "type": "quantitative"}}},
              {"data": {"values": [{"v": 1.52}]}, "mark": {"type": "rule", "color": "#4682b4", "strokeWidth": 1.8},
               "encoding": {"y": {"field": "v", "type": "quantitative"}}},
              {"data": {"values": [{"g": -0.63, "m": 1.52}]}, "mark": {"type": "point", "shape": "square", "filled": true, "color": "#4682b4", "size": 64, "opacity": 1},
               "encoding": {"x": {"field": "g", "type": "quantitative"}, "y": {"field": "m", "type": "quantitative"}}},
              {"data": {"name": "ttly"}, "transform": [{"filter": "datum.k=='main'"}],
               "mark": {"type": "text", "angle": 270, "align": "left", "baseline": "alphabetic", "fontSize": 14, "color": "black"},
               "encoding": {"x": {"field": "g", "type": "quantitative"}, "y": {"field": "m", "type": "quantitative"}, "text": {"field": "t"}}},
              {"data": {"name": "ttly"}, "transform": [{"filter": "datum.k=='small'"}],
               "mark": {"type": "text", "angle": 270, "align": "left", "baseline": "alphabetic", "fontSize": 10, "color": "black"},
               "encoding": {"x": {"field": "g", "type": "quantitative"}, "y": {"field": "m", "type": "quantitative"}, "text": {"field": "t"}}}
            ]
          }
        ]
      },
      {
        "spacing": 9, "bounds": "flush",
        "vconcat": [
          {"width": 215, "height": 215, "view": {"stroke": null}, "data": {"values": [{"a": 1}]}, "mark": {"type": "text", "text": ""}, "encoding": {}},
          {
            "width": 215, "height": 214,
            "layer": [
              {"data": {"name": "hm"}, "mark": {"type": "line", "interpolate": "step-after", "color": "black", "strokeWidth": 1.3},
               "encoding": {
                 "x": {"field": "e", "type": "quantitative", "scale": {"domain": [0.907, 2.151], "nice": false, "zero": false},
                       "axis": {"values": [1, 1.25, 1.5, 1.75, 2], "format": ".2f",
                                "labelAngle": 315, "labelAlign": "center", "labelBaseline": "middle", "labelFontSize": 13.5, "labelPadding": 22,
                                "tickSize": 4, "title": null}},
                 "y": {"field": "n", "type": "quantitative", "scale": {"domain": [0, 1295], "nice": false},
                       "axis": {"values": [0, 200, 400, 600, 800, 1000, 1200], "labels": false, "title": null, "tickSize": 4}}}},
              {"data": {"values": [{"v": 1.52}]}, "mark": {"type": "rule", "color": "#4682b4", "strokeWidth": 1.8},
               "encoding": {"x": {"field": "v", "type": "quantitative"}}},
              {"data": {"name": "ttlx"}, "transform": [{"filter": "datum.k=='main'"}],
               "mark": {"type": "text", "align": "left", "baseline": "alphabetic", "fontSize": 14, "color": "black"},
               "encoding": {"x": {"field": "x", "type": "quantitative"}, "y": {"field": "y", "type": "quantitative"}, "text": {"field": "t"}}},
              {"data": {"name": "ttlx"}, "transform": [{"filter": "datum.k=='small'"}],
               "mark": {"type": "text", "align": "left", "baseline": "alphabetic", "fontSize": 10, "color": "black"},
               "encoding": {"x": {"field": "x", "type": "quantitative"}, "y": {"field": "y", "type": "quantitative"}, "text": {"field": "t"}}}
            ]
          }
        ]
      }
    ]
  }
]
}
